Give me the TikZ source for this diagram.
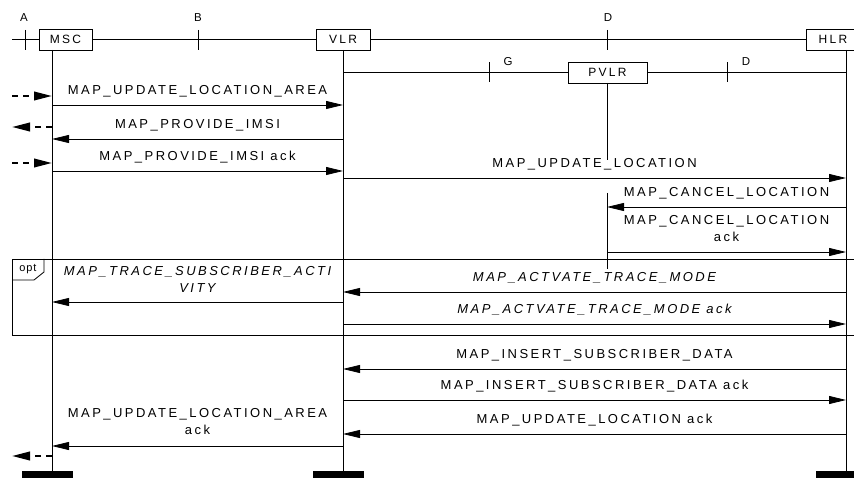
\documentclass[tikz,border=0pt]{standalone}
\usepackage{fontspec}
\setmainfont{Liberation Sans}[LetterSpace=19]
\newfontfamily\optfont{Liberation Sans}[LetterSpace=8]
\usetikzlibrary{arrows.meta}

\begin{document}
\begin{tikzpicture}[x=1pt,y=-1pt,
  every node/.style={inner sep=0pt},
  lane/.style={line width=0.9pt},
  obj/.style={draw, line width=0.9pt, minimum height=21pt, font=\fontsize{12}{14}\selectfont},
  msg/.style={line width=0.8pt, -{Triangle[length=17pt,width=8pt]}},
  envmsg/.style={line width=2.2pt, dash pattern=on 6pt off 5pt, -{Triangle[length=18pt,width=8.5pt]}},
  lbl/.style={font=\fontsize{13}{17}\selectfont, anchor=base, align=center},
  ilbl/.style={lbl, font=\fontsize{13}{17}\selectfont\itshape},
  ifc/.style={font=\fontsize{11.5}{14}\selectfont, anchor=base},
  endbar/.style={fill=black},
]
\useasboundingbox (0,0) rectangle (854,478);

% instances
\node[obj, minimum width=53pt] (msc) at (65.5,39.5) {MSC};
\node[obj, minimum width=54pt] (vlr) at (343,39.5) {VLR};
\node[obj, minimum width=54pt] (hlr) at (833,39.5) {HLR};
\node[obj, minimum width=79pt] (pvlr) at (607.5,72.5) {PVLR};

% lifeline anchors
\coordinate (M) at (52,50);
\coordinate (V) at (343,50);
\coordinate (H) at (846,50);
\coordinate (P) at (607,83);
\coordinate (E) at (12,0);

% interface line on top
\coordinate (topL) at (12,39.5);
\draw[lane] (topL) -- (msc.west);
\draw[lane] (msc.east) -- (vlr.west);
\draw[lane] (vlr.east) -- (hlr.west);

% interface ticks and names
\coordinate (tA) at (25,40);
\coordinate (tB) at (198,40);
\coordinate (tD) at (607,40);
\foreach \t in {tA,tB,tD} \draw[lane] ([yshift=10pt]\t) -- ([yshift=-10pt]\t);
\node[ifc] (labA) at (24,22) {A};
\node[ifc] (labB) at (198,22) {B};
\node[ifc] (labD) at (608,22) {D};

% VLR - PVLR - HLR line
\draw[lane] (V |- pvlr.west) -- (pvlr.west);
\draw[lane] (pvlr.east) -- (H |- pvlr.east);
\coordinate (tG) at (489,72.5);
\coordinate (tD2) at (727,72.5);
\foreach \t in {tG,tD2} \draw[lane] ([yshift=10pt]\t) -- ([yshift=-10pt]\t);
\node[ifc] (labG) at (508,66) {G};
\node[ifc] (labD2) at (746,66) {D};

% lifelines
\draw[lane] (M) -- (M |- 0,471);
\draw[lane] (V) -- (V |- 0,471);
\draw[lane] (H) -- (H |- 0,471);
\draw[lane] (P) -- (P |- 0,160);
\draw[lane] (P |- 0,193) -- (P |- 0,269);

% end bars
\foreach \c in {M,V,H} \fill[endbar] ([xshift=-30pt]\c |- 0,471) rectangle ++(51,8);

% opt frame
\node[draw, line width=0.9pt, anchor=north west, minimum width=850pt, minimum height=76pt] (optframe) at (12,259) {};
\draw[line width=0.8pt] ([xshift=32pt]optframe.north west) -- ++(0,13) -- ++(-10,8) -- ([yshift=-21pt]optframe.north west);
\node[font=\fontsize{11}{13}\selectfont\optfont, anchor=base] (optlabel) at (28,271.5) {opt};

% environment messages
\draw[envmsg] (E |- 0,96) -- (M |- 0,96);
\draw[envmsg] (M |- 0,127) -- (E |- 0,127);
\draw[envmsg] (E |- 0,163) -- (M |- 0,163);
\draw[envmsg] (M |- 0,456) -- (E |- 0,456);

% messages
\draw[msg] (M |- 0,105) -- node[lbl, yshift=10.5pt] {MAP\_UPDATE\_LOCATION\_AREA} (V |- 0,105);
\draw[msg] (V |- 0,139) -- node[lbl, yshift=10.5pt] {MAP\_PROVIDE\_IMSI} (M |- 0,139);
\draw[msg] (M |- 0,171) -- node[lbl, yshift=10.5pt] {MAP\_PROVIDE\_IMSI ack} (V |- 0,171);
\draw[msg] (V |- 0,178) -- node[lbl, yshift=10.5pt] {MAP\_UPDATE\_LOCATION} (H |- 0,178);
\draw[msg] (H |- 0,207) -- node[lbl, yshift=10.5pt] {MAP\_CANCEL\_LOCATION} (P |- 0,207);
\draw[msg] (P |- 0,252) -- node[lbl, yshift=10.5pt] {MAP\_CANCEL\_LOCATION\\ack} (H |- 0,252);
\draw[msg] (H |- 0,292) -- node[ilbl, yshift=10.5pt] {MAP\_ACTVATE\_TRACE\_MODE} (V |- 0,292);
\draw[msg] (V |- 0,302) -- node[ilbl, yshift=9.5pt] {MAP\_TRACE\_SUBSCRIBER\_ACTI\\VITY} (M |- 0,302);
\draw[msg] (V |- 0,324) -- node[ilbl, yshift=10.5pt] {MAP\_ACTVATE\_TRACE\_MODE ack} (H |- 0,324);
\draw[msg] (H |- 0,369) -- node[lbl, yshift=10.5pt] {MAP\_INSERT\_SUBSCRIBER\_DATA} (V |- 0,369);
\draw[msg] (V |- 0,400) -- node[lbl, yshift=10.5pt] {MAP\_INSERT\_SUBSCRIBER\_DATA ack} (H |- 0,400);
\draw[msg] (H |- 0,434) -- node[lbl, yshift=10.5pt] {MAP\_UPDATE\_LOCATION ack} (V |- 0,434);
\draw[msg] (V |- 0,446) -- node[lbl, yshift=11.5pt] {MAP\_UPDATE\_LOCATION\_AREA\\ack} (M |- 0,446);
\end{tikzpicture}
\end{document}
